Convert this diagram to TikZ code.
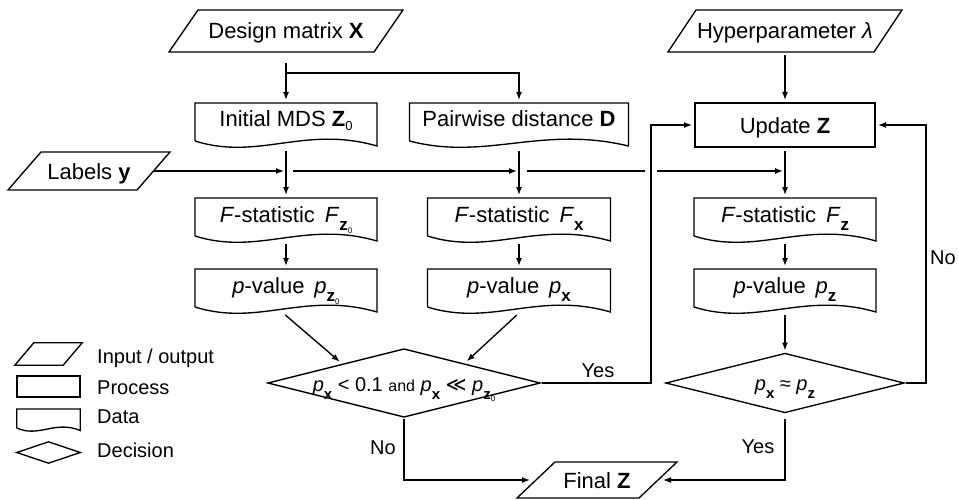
\documentclass[tikz,border=0pt]{standalone}
\usepackage{fontspec}
\setmainfont{Liberation Sans}
\newfontfamily\dejavu{DejaVu Sans}
\usetikzlibrary{arrows.meta,calc}
\def\subsz{17}
\newcommand\subb[1]{\raisebox{-0.4em}{\fontsize{\subsz}{\subsz}\selectfont\bfseries #1}}
\newcommand\subzo{\raisebox{-0.4em}{\fontsize{\subsz}{\subsz}\selectfont\bfseries z\raisebox{-0.15em}{\fontsize{8}{8}\selectfont\mdseries 0}}}
% data (document) outline: name, width, vertical scale
\newcommand\dataout[3]{%
  \draw[ln] ($(#1.north west)+(0,38*#3)$) -- (#1.north west) -- (#1.north east) -- ($(#1.north east)+(0,43*#3)$)
    .. controls ($(#1.north west)+(0.6*#2,22*#3)$) and ($(#1.north west)+(0.35*#2,58*#3)$) .. ($(#1.north west)+(0,38*#3)$);}
% parallelogram outline: name, slant
\newcommand\parout[2]{%
  \draw[ln] (#1.south west) -- ($(#1.north west)+(#2,0)$) -- (#1.north east) -- ($(#1.south east)+(-#2,0)$) -- cycle;}
\newcommand\diaout[1]{%
  \draw[ln] (#1.west) -- (#1.north) -- (#1.east) -- (#1.south) -- cycle;}
\tikzset{
  ln/.style={line width=1.35pt, draw=black, line join=miter},
  arr/.style={ln, -{Latex[length=8pt,width=6pt]}, shorten >=3pt},
  base/.style={inner sep=0pt, outer sep=0pt, font=\fontsize{22}{26}\selectfont},
  databox/.style={base, anchor=north, minimum width=#1, minimum height=44, text height=24pt, text depth=20pt},
  lbl/.style={inner sep=0pt, font=\fontsize{20}{24}\selectfont},
}
\begin{document}
\begin{tikzpicture}[x=1pt,y=-1pt]
\useasboundingbox (0,0) rectangle (958,500);
\clip (0,0) rectangle (958,500);
\fill[white] (0,0) rectangle (958,500);

% inputs
\node[base, minimum width=234, minimum height=42, text height=29pt, text depth=13pt] (design) at (286,31) {Design matrix \textbf{X}};
\parout{design}{29}
\node[base, minimum width=234, minimum height=42, text height=29pt, text depth=13pt] (hyper) at (785,31) {Hyperparameter \textit{λ}};
\parout{hyper}{28}
\node[base, minimum width=162, minimum height=38, text height=27pt, text depth=11pt] (labels) at (89,171) {Labels \textbf{y}};
\parout{labels}{33}

% row 1
\node[databox=182] (mds) at (286,103) {Initial MDS \textbf{Z}\raisebox{-0.15em}{\fontsize{13}{13}\selectfont 0}};
\dataout{mds}{182}{1}
\node[databox=219] (pair) at (519,103) {Pairwise distance \textbf{D}};
\dataout{pair}{219}{1}
\node[base, draw=black, line width=1.35pt, minimum width=180, minimum height=44, text height=30pt, text depth=14pt] (update) at (785,125) {Update \textbf{Z}};

% row 2
\node[databox=182] (fz0) at (286,198) {\textit{F}-statistic\hspace{0.45em}\textit{F}\subzo};
\dataout{fz0}{182}{1}
\node[databox=183] (fx) at (519,198) {\textit{F}-statistic\hspace{0.45em}\textit{F}\subb{x}};
\dataout{fx}{183}{1}
\node[databox=182] (fz) at (785,198) {\textit{F}-statistic\hspace{0.45em}\textit{F}\subb{z}};
\dataout{fz}{182}{1}

% row 3
\node[databox=182] (pz0) at (286,269) {\textit{p}-value\hspace{0.45em}\textit{p}\subzo};
\dataout{pz0}{182}{1}
\node[databox=183] (px) at (519,269) {\textit{p}-value\hspace{0.45em}\textit{p}\subb{x}};
\dataout{px}{183}{1}
\node[databox=182] (pz) at (785,269) {\textit{p}-value\hspace{0.45em}\textit{p}\subb{z}};
\dataout{pz}{182}{1}

% decisions
\node[base, font=\fontsize{20}{24}\selectfont, minimum width=272, minimum height=68, text height=42pt, text depth=26pt] (d1) at (404,383)
  {\def\subsz{15}\textit{p}\subb{x} < 0.1 {\fontsize{16}{16}\selectfont and} \textit{p}\subb{x} {\dejavu ≪} \textit{p}\subzo};
\diaout{d1}
\node[base, font=\fontsize{20}{24}\selectfont, minimum width=238, minimum height=59, text height=37pt, text depth=22pt] (d2) at (785,383)
  {\def\subsz{15}\textit{p}\subb{x} ≈ \textit{p}\subb{z}};
\diaout{d2}

% output
\node[base, minimum width=160, minimum height=36, text height=26pt, text depth=10pt] (final) at (597,480) {Final \textbf{Z}};
\parout{final}{38}

% helper coordinates
\coordinate (labels-e) at ($(labels.east)+(-16,0)$);
\coordinate (c1) at (labels-e -| mds.south);
\coordinate (c2) at (labels-e -| pair.south);
\coordinate (c3) at (labels-e -| update.south);
\coordinate (yk) at ($(update.west)+(-44,0)$);
\coordinate (g1) at ($(c1)+(7,0)$);
\coordinate (g2) at ($(c2)+(8,0)$);
\coordinate (g3) at ($(labels-e -| yk)+(-6,0)$);
\coordinate (g4) at ($(labels-e -| yk)+(6,0)$);
\coordinate (nk) at ($(update.east)+(51,0)$);
\coordinate (br) at ($(design.south)+(0,21)$);
\coordinate (t1) at ($(d1.west)!0.55!(d1.north)$);
\coordinate (t2) at ($(d1.north)!0.44!(d1.east)$);
\coordinate (fw) at ($(final.west)+(19,0)$);
\coordinate (fe) at ($(final.east)+(-19,0)$);

% connectors
\draw[arr, shorten <=11pt] (design.south) -- (mds.north);
\draw[arr] (br) -| (pair.north);
\draw[arr, shorten <=3pt] (hyper.south) -- (update.north);

\draw[arr, shorten >=2pt] (labels-e) -- (c1);
\draw[arr, shorten >=2pt] (g1) -- (c2);
\draw[ln] (g2) -- (g3);
\draw[arr, shorten >=2pt] (g4) -- (c3);

\draw[arr, shorten <=4pt] (mds.south) -- (fz0.north);
\draw[arr, shorten <=4pt] (pair.south) -- (fx.north);
\draw[arr, shorten <=4pt] (update.south) -- (fz.north);
\draw[arr, shorten <=2pt] (fz0.south) -- (pz0.north);
\draw[arr, shorten <=2pt] (fx.south) -- (px.north);
\draw[arr, shorten <=2pt] (fz.south) -- (pz.north);

\draw[arr, shorten <=3pt, shorten >=4pt] ($(pz0.south)+(-3,0)$) -- (t1);
\draw[arr, shorten <=3pt, shorten >=4pt] (px.south) -- (t2);
\draw[arr, shorten <=2pt] (pz.south) -- (d2.north);

\draw[arr, shorten <=2pt] (d1.east) -| (yk) -- (update.west);
\draw[arr, shorten <=2pt] (d2.east) -| (nk) -- (update.east);
\draw[arr, shorten <=6pt, shorten >=5pt] (d2.south) |- (fe);
\draw[arr, shorten <=2pt, shorten >=6pt] (d1.south) |- (fw);

% connector labels
\node[lbl] (yes1) at (598,371) {Yes};
\node[lbl] (yes2) at (758,447) {Yes};
\node[lbl] (no1) at (383,448) {No};
\node[lbl, anchor=west] (no2) at (930,258) {No};

% legend
\node[minimum width=67, minimum height=22, inner sep=0pt] (lg1) at (48.5,354) {};
\parout{lg1}{19}
\node[draw=black, line width=1.35pt, minimum width=63, minimum height=21, inner sep=0pt] (lg2) at (48.5,386.5) {};
\node[anchor=north, minimum width=63, minimum height=22, inner sep=0pt] (lg3) at (48.5,409) {};
\dataout{lg3}{63}{0.5}
\node[minimum width=63, minimum height=21, inner sep=0pt] (lg4) at (48.5,452.5) {};
\diaout{lg4}
\node[lbl, anchor=base west] (lt1) at (97,363) {Input / output};
\node[lbl, anchor=base west] (lt2) at (97,394) {Process};
\node[lbl, anchor=base west] (lt3) at (97,423) {Data};
\node[lbl, anchor=base west] (lt4) at (97,457) {Decision};
\end{tikzpicture}
\end{document}
